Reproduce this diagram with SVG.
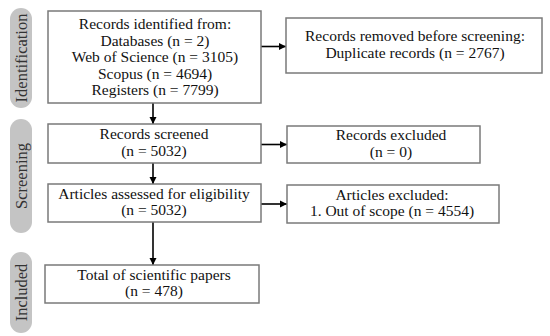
<svg xmlns="http://www.w3.org/2000/svg" width="550" height="336" viewBox="0 0 550 336">
<defs>
<style>
.box{fill:#fff;stroke:#7a7a7a;stroke-width:1.5}
.pill{fill:#c4c4c4;stroke:none}
.t{font-family:"Liberation Serif","Times New Roman",serif;font-size:15.5px;fill:#111;text-anchor:middle}
.pt{font-family:"Liberation Serif","Times New Roman",serif;font-size:16.5px;fill:#333;text-anchor:middle}
.c{stroke:#000;stroke-width:1.6;fill:none;marker-end:url(#ah)}
</style>
<marker id="ah" viewBox="0 0 10 10" refX="10" refY="5" markerWidth="4.5" markerHeight="4.5" orient="auto" markerUnits="strokeWidth">
<path d="M0,0 L10,5 L0,10 z" fill="#000"/>
</marker>
</defs>
<rect width="550" height="336" fill="#fff"/>
<g id="stage-identification">
<rect class="pill" x="10" y="8" width="22" height="100" rx="11"/>
<text class="pt" transform="translate(26.5,58) rotate(-90)">Identification</text>
</g>
<g id="stage-screening">
<rect class="pill" x="10" y="119" width="22" height="114" rx="11"/>
<text class="pt" transform="translate(26.5,176) rotate(-90)">Screening</text>
</g>
<g id="stage-included">
<rect class="pill" x="10" y="252" width="22" height="81" rx="11"/>
<text class="pt" transform="translate(26.5,292.5) rotate(-90)">Included</text>
</g>
<g id="connectors">
<line class="c" x1="153" y1="103" x2="153" y2="124"/>
<line class="c" x1="153" y1="163" x2="153" y2="184"/>
<line class="c" x1="153" y1="222" x2="153" y2="265"/>
<line class="c" x1="261" y1="46.5" x2="286" y2="46.5"/>
<line class="c" x1="261" y1="144.5" x2="287" y2="144.5"/>
<line class="c" x1="261" y1="204" x2="287" y2="204"/>
</g>
<g id="records-identified">
<rect class="box" x="48" y="11" width="213" height="92"/>
<text class="t" x="155" y="29">Records identified from:</text>
<text class="t" x="155" y="45.5">Databases (n = 2)</text>
<text class="t" x="155" y="62">Web of Science (n = 3105)</text>
<text class="t" x="155" y="78.5">Scopus (n = 4694)</text>
<text class="t" x="155" y="95">Registers (n = 7799)</text>
</g>
<g id="records-removed">
<rect class="box" x="286" y="18" width="256" height="55"/>
<text class="t" x="415" y="41">Records removed before screening:</text>
<text class="t" x="415" y="57.5">Duplicate records (n = 2767)</text>
</g>
<g id="records-screened">
<rect class="box" x="48" y="124" width="213" height="39"/>
<text class="t" x="154" y="139">Records screened</text>
<text class="t" x="154" y="155.5">(n = 5032)</text>
</g>
<g id="records-excluded">
<rect class="box" x="287" y="126" width="193" height="37"/>
<text class="t" x="391" y="140">Records excluded</text>
<text class="t" x="391" y="156.5">(n = 0)</text>
</g>
<g id="articles-assessed">
<rect class="box" x="48" y="184" width="213" height="38"/>
<text class="t" x="154" y="198.5">Articles assessed for eligibility</text>
<text class="t" x="154" y="215">(n = 5032)</text>
</g>
<g id="articles-excluded">
<rect class="box" x="287" y="185" width="212" height="38"/>
<text class="t" x="392" y="199.5">Articles excluded:</text>
<text class="t" x="392" y="216">1. Out of scope (n = 4554)</text>
</g>
<g id="total-papers">
<rect class="box" x="45" y="265" width="214" height="38"/>
<text class="t" x="154" y="279.5">Total of scientific papers</text>
<text class="t" x="154" y="296">(n = 478)</text>
</g>
</svg>
